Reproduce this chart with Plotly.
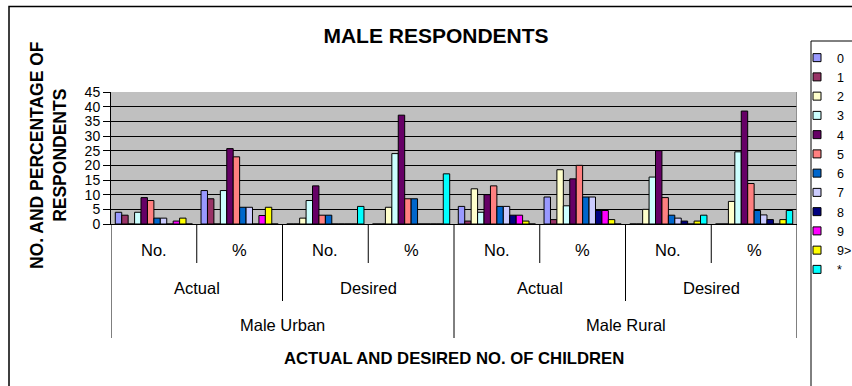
import plotly.graph_objects as go

# ---------------- data ----------------
level3 = ["Male Urban", "Male Rural"]
level2 = ["Actual", "Desired", "Actual", "Desired"]
level1 = ["No.", "%", "No.", "%", "No.", "%", "No.", "%"]

series_names = ["0", "1", "2", "3", "4", "5", "6", "7", "8", "9", "9>", "*"]
series_colors = ["#9999FF", "#993366", "#FFFFCC", "#CCFFFF", "#660066", "#FF8080",
                 "#0066CC", "#CCCCFF", "#000080", "#FF00FF", "#FFFF00", "#00FFFF"]

s0 = [4, 11.4, 0, 0, 6, 9.2, 0, 0]
s1 = [3, 8.6, 0, 0, 1, 1.5, 0, 0]
s2 = [0, 0, 2, 5.7, 12, 18.5, 5, 7.7]
s3 = [4, 11.4, 8, 24.0, 4, 6.2, 16, 24.6]
s4 = [9, 25.7, 13, 37.1, 10, 15.4, 25, 38.5]
s5 = [8, 22.9, 3, 8.6, 13, 20.0, 9, 13.8]
s6 = [2, 5.7, 3, 8.6, 6, 9.2, 3, 4.6]
s7 = [2, 5.7, 0, 0, 6, 9.2, 2, 3.1]
s8 = [0, 0, 0, 0, 3, 4.6, 1, 1.5]
s9 = [1, 2.9, 0, 0, 3, 4.6, 0, 0]
s10 = [2, 5.7, 0, 0, 1, 1.5, 1, 1.5]
s11 = [0, 0, 6, 17.1, 0, 0, 3, 4.6]
series_values = [s0, s1, s2, s3, s4, s5, s6, s7, s8, s9, s10, s11]

y_ticks = [0, 5, 10, 15, 20, 25, 30, 35, 40, 45]

# ---------------- layout geometry (pixels) ----------------
WIDTH, HEIGHT = 852, 386
PL, PR, PT, PB = 111, 797, 92, 224
PW, PH = PR - PL, PB - PT
FONT = "Liberation Sans, Arial, sans-serif"


def px_x(p):
    return (p - PL) / PW


def px_y(p):
    return (PB - p) / PH


xpos = list(range(len(level1)))

fig = go.Figure()
for name, color, vals in zip(series_names, series_colors, series_values):
    fig.add_trace(go.Bar(
        x=xpos, y=vals, name=name, showlegend=False,
        marker=dict(color=color, line=dict(color="black", width=1)),
    ))
# legend entries (small square swatches)
for name, color in zip(series_names, series_colors):
    fig.add_trace(go.Scatter(
        x=[None], y=[None], name=name, mode="markers",
        marker=dict(symbol="square", size=8, color=color,
                    line=dict(color="black", width=1)),
    ))

shapes = []
# outer chart border
shapes.append(dict(type="rect", xref="paper", yref="paper",
                   x0=px_x(9), x1=px_x(880), y0=px_y(420), y1=px_y(6.5),
                   line=dict(color="black", width=1.5), layer="below"))
# legend border
shapes.append(dict(type="rect", xref="paper", yref="paper",
                   x0=px_x(811), x1=px_x(900), y0=px_y(420), y1=px_y(41),
                   line=dict(color="black", width=1)))
# plot area right border
shapes.append(dict(type="line", xref="x", yref="paper", x0=7.5, x1=7.5, y0=0, y1=1,
                   line=dict(color="#808080", width=1.5)))

# category table dividers
y_l1 = px_y(263)
y_l2 = px_y(301)
y_l3 = px_y(338)
for i in range(len(level1) + 1):
    xb = i - 0.5
    if i % 4 == 0:
        yb = y_l3
    elif i % 2 == 0:
        yb = y_l2
    else:
        yb = y_l1
    shapes.append(dict(type="line", xref="x", yref="paper", x0=xb, x1=xb, y0=0, y1=yb,
                       line=dict(color="black", width=1)))

annotations = []
lab_font = dict(family=FONT, size=16.5, color="black")
for i, t in enumerate(level1):
    annotations.append(dict(text=t, x=i, y=px_y(250), xref="x", yref="paper",
                            showarrow=False, font=lab_font, xanchor="center", yanchor="middle"))
for i, t in enumerate(level2):
    annotations.append(dict(text=t, x=2 * i + 0.5, y=px_y(288), xref="x", yref="paper",
                            showarrow=False, font=lab_font, xanchor="center", yanchor="middle"))
for i, t in enumerate(level3):
    annotations.append(dict(text=t, x=4 * i + 1.5, y=px_y(325), xref="x", yref="paper",
                            showarrow=False, font=lab_font, xanchor="center", yanchor="middle"))
# axis titles
annotations.append(dict(text="<b>ACTUAL AND DESIRED NO. OF CHILDREN</b>", x=0.5, y=px_y(358),
                        xref="paper", yref="paper", showarrow=False,
                        font=dict(family=FONT, size=16.7, color="black"),
                        xanchor="center", yanchor="middle"))
annotations.append(dict(text="<b>NO. AND PERCENTAGE OF<br>RESPONDENTS</b>", x=px_x(48), y=px_y(155),
                        xref="paper", yref="paper", showarrow=False, textangle=-90,
                        font=dict(family=FONT, size=17.5, color="black"),
                        xanchor="center", yanchor="middle"))

fig.update_layout(
    width=WIDTH, height=HEIGHT,
    margin=dict(l=PL, r=WIDTH - PR, t=PT, b=HEIGHT - PB, autoexpand=False),
    paper_bgcolor="white", plot_bgcolor="#C0C0C0",
    barmode="group", bargap=0.1, bargroupgap=0,
    font=dict(family=FONT, color="black"),
    title=dict(text="<b>MALE RESPONDENTS</b>", x=436 / WIDTH, xref="container", xanchor="center",
               y=1 - 35.7 / HEIGHT, yref="container", yanchor="middle",
               font=dict(family=FONT, size=21, color="black")),
    xaxis=dict(range=[-0.5, 7.5], showticklabels=False, ticks="", showgrid=False,
               zeroline=False, showline=True, linecolor="black", linewidth=1, fixedrange=True),
    yaxis=dict(range=[0, 45], tickvals=y_ticks, ticks="outside", ticklen=7, tickcolor="black",
               tickfont=dict(family=FONT, size=14, color="black"),
               showgrid=True, gridcolor="black", gridwidth=1, zeroline=False,
               showline=True, linecolor="black", linewidth=1),
    legend=dict(x=px_x(797), y=px_y(43), xanchor="left", yanchor="top",
                bgcolor="rgba(0,0,0,0)", borderwidth=0, maxheight=340,
                font=dict(family=FONT, size=12.5, color="black"), tracegroupgap=0),
    shapes=shapes, annotations=annotations,
)

fig.write_html("out.html")
